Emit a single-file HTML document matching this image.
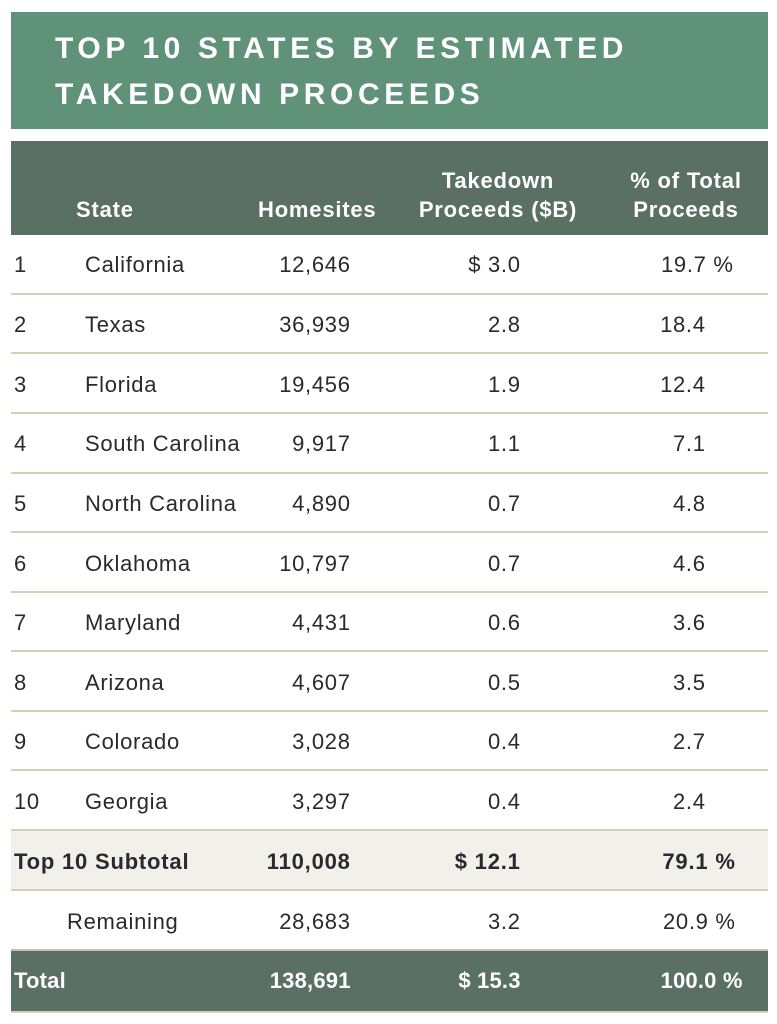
<!DOCTYPE html>
<html><head><style>
body{margin:0;width:777px;height:1024px;background:#fff;font-family:"Liberation Sans",Arial,sans-serif;position:relative;overflow:hidden;color:#2a2a2a}
.t{position:absolute;left:11px;top:12px;width:757px;height:117px;background:#60927a}
.t div{position:absolute;left:44px;color:#fff;font-weight:bold;font-size:30px;letter-spacing:4.6px}
.h{position:absolute;left:11px;top:141px;width:757px;height:94px;background:#5a7064}
.a{position:absolute;white-space:nowrap;font-size:22px;line-height:24px;letter-spacing:0.7px}
.r{text-align:right;margin-right:-0.7px}
.w{color:#fff;font-weight:bold;letter-spacing:0.8px}
.b{font-weight:bold;letter-spacing:0.8px}
.sep{position:absolute;left:11px;width:757px;height:2px;background:#d9ceb9}
.tot{letter-spacing:0.2px}
</style></head><body>
<div class="t"><div style="top:20px">TOP 10 STATES BY ESTIMATED</div><div style="top:66px">TAKEDOWN PROCEEDS</div></div>
<div class="h"></div>
<div class="a w" style="left:76px;top:198px">State</div>
<div class="a w" style="left:258px;top:198px">Homesites</div>
<div class="a w" style="left:418px;top:169px;width:160px;text-align:center">Takedown<br><span style="display:inline-block;margin-top:5px">Proceeds ($B)</span></div>
<div class="a w" style="left:606px;top:169px;width:160px;text-align:center">% of Total<br><span style="display:inline-block;margin-top:5px">Proceeds</span></div>

<div class="a" style="left:14px;top:253px">1</div><div class="a" style="left:85px;top:253px">California</div><div class="a r" style="right:427px;top:253px">12,646</div><div class="a r" style="right:257px;top:253px">$ 3.0</div><div class="a r" style="right:44px;top:253px">19.7 %</div>
<div class="sep" style="top:293px"></div>
<div class="a" style="left:14px;top:313px">2</div><div class="a" style="left:85px;top:313px">Texas</div><div class="a r" style="right:427px;top:313px">36,939</div><div class="a r" style="right:257px;top:313px">2.8</div><div class="a r" style="right:72px;top:313px">18.4</div>
<div class="sep" style="top:352px"></div>
<div class="a" style="left:14px;top:373px">3</div><div class="a" style="left:85px;top:373px">Florida</div><div class="a r" style="right:427px;top:373px">19,456</div><div class="a r" style="right:257px;top:373px">1.9</div><div class="a r" style="right:72px;top:373px">12.4</div>
<div class="sep" style="top:412px"></div>
<div class="a" style="left:14px;top:432px">4</div><div class="a" style="left:85px;top:432px">South Carolina</div><div class="a r" style="right:427px;top:432px">9,917</div><div class="a r" style="right:257px;top:432px">1.1</div><div class="a r" style="right:72px;top:432px">7.1</div>
<div class="sep" style="top:472px"></div>
<div class="a" style="left:14px;top:492px">5</div><div class="a" style="left:85px;top:492px">North Carolina</div><div class="a r" style="right:427px;top:492px">4,890</div><div class="a r" style="right:257px;top:492px">0.7</div><div class="a r" style="right:72px;top:492px">4.8</div>
<div class="sep" style="top:531px"></div>
<div class="a" style="left:14px;top:552px">6</div><div class="a" style="left:85px;top:552px">Oklahoma</div><div class="a r" style="right:427px;top:552px">10,797</div><div class="a r" style="right:257px;top:552px">0.7</div><div class="a r" style="right:72px;top:552px">4.6</div>
<div class="sep" style="top:591px"></div>
<div class="a" style="left:14px;top:611px">7</div><div class="a" style="left:85px;top:611px">Maryland</div><div class="a r" style="right:427px;top:611px">4,431</div><div class="a r" style="right:257px;top:611px">0.6</div><div class="a r" style="right:72px;top:611px">3.6</div>
<div class="sep" style="top:650px"></div>
<div class="a" style="left:14px;top:671px">8</div><div class="a" style="left:85px;top:671px">Arizona</div><div class="a r" style="right:427px;top:671px">4,607</div><div class="a r" style="right:257px;top:671px">0.5</div><div class="a r" style="right:72px;top:671px">3.5</div>
<div class="sep" style="top:710px"></div>
<div class="a" style="left:14px;top:730px">9</div><div class="a" style="left:85px;top:730px">Colorado</div><div class="a r" style="right:427px;top:730px">3,028</div><div class="a r" style="right:257px;top:730px">0.4</div><div class="a r" style="right:72px;top:730px">2.7</div>
<div class="sep" style="top:769px"></div>
<div class="a" style="left:14px;top:790px">10</div><div class="a" style="left:85px;top:790px">Georgia</div><div class="a r" style="right:427px;top:790px">3,297</div><div class="a r" style="right:257px;top:790px">0.4</div><div class="a r" style="right:72px;top:790px">2.4</div>
<div style="position:absolute;left:11px;top:829px;width:757px;height:61px;background:#f2f0eb"></div>
<div class="sep" style="top:829px"></div>
<div class="a b" style="left:14px;top:850px">Top 10 Subtotal</div><div class="a r b" style="right:427px;top:850px">110,008</div><div class="a r b" style="right:257px;top:850px">$ 12.1</div><div class="a r b" style="right:42px;top:850px">79.1 %</div>
<div class="sep" style="top:889px"></div>
<div class="a" style="left:67px;top:910px">Remaining</div><div class="a r" style="right:427px;top:910px">28,683</div><div class="a r" style="right:257px;top:910px">3.2</div><div class="a r" style="right:42px;top:910px">20.9 %</div>
<div style="position:absolute;left:11px;top:949px;width:757px;height:60px;background:#5a7064;border-top:2px solid #c9bfa8;border-bottom:2px solid #d9ceb9"></div>
<div class="a w tot" style="left:14px;top:969px">Total</div><div class="a r w tot" style="right:427px;top:969px">138,691</div><div class="a r w tot" style="right:257px;top:969px">$ 15.3</div><div class="a r w tot" style="right:35px;top:969px">100.0 %</div>
</body></html>
